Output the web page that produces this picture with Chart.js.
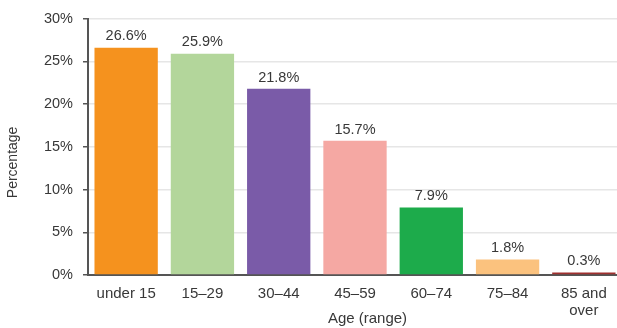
<!DOCTYPE html>
<html>
<head>
<meta charset="utf-8">
<script src="https://cdn.jsdelivr.net/npm/chart.js@4.4.1/dist/chart.umd.min.js"></script>
<style>
html,body{margin:0;padding:0;background:#fff;overflow:hidden;}
canvas{display:block;}
</style>
</head>
<body>
<canvas id="c" width="623" height="328"></canvas>
<script>
const categories = ['under 15', '15\u201329', '30\u201344', '45\u201359', '60\u201374', '75\u201384', ['85 and', 'over']];
const percentages = [26.6, 25.9, 21.8, 15.7, 7.9, 1.8, 0.3];
const yTicks = [0, 5, 10, 15, 20, 25, 30];
const barColors = ['#F5921E', '#B3D69B', '#7A5BA8', '#F5A8A3', '#1DAB4B', '#FBC27E', '#A0302F'];

const FONT = "'Liberation Sans', Arial, sans-serif";
const TEXT = '#383838';

const valueLabels = {
  id: 'valueLabels',
  afterDatasetsDraw(chart) {
    const ctx = chart.ctx;
    const meta = chart.getDatasetMeta(0);
    ctx.save();
    ctx.font = '14.5px ' + FONT;
    ctx.fillStyle = TEXT;
    ctx.textAlign = 'center';
    ctx.textBaseline = 'bottom';
    meta.data.forEach((bar, i) => {
      ctx.fillText(percentages[i].toFixed(1) + '%', bar.x, bar.y - 4);
    });
    ctx.restore();
  }
};

new Chart(document.getElementById('c'), {
  type: 'bar',
  data: {
    labels: categories,
    datasets: [{
      data: percentages,
      backgroundColor: barColors,
      borderWidth: 0,
      barPercentage: 0.83,
      categoryPercentage: 1.0
    }]
  },
  options: {
    responsive: false,
    animation: false,
    devicePixelRatio: 1,
    layout: { padding: { top: 17, left: 0, right: 1, bottom: 0 } },
    plugins: { legend: { display: false }, tooltip: { enabled: false } },
    scales: {
      x: {
        grid: { display: false, drawTicks: false },
        border: { display: true, color: '#555', width: 2 },
        ticks: { color: TEXT, font: { family: FONT, size: 15, lineHeight: 1.1 }, padding: 11, maxRotation: 0, autoSkip: false },
        title: { display: true, text: '      Age (range)', color: TEXT, font: { family: FONT, size: 15 }, padding: { top: 0, bottom: 0 } },
        afterFit(s) { s.height = 53; }
      },
      y: {
        min: 0, max: 30,
        afterBuildTicks(s) { s.ticks = yTicks.map(v => ({ value: v })); },
        grid: { color: '#e6e6e6', tickColor: '#555', tickLength: 5, lineWidth: 1.5 },
        border: { display: true, color: '#555', width: 2 },
        ticks: { color: TEXT, font: { family: FONT, size: 14.5 }, padding: 10, callback: v => v + '%' },
        title: { display: true, text: 'Percentage        ', color: TEXT, font: { family: FONT, size: 14 }, padding: { top: 5, bottom: 0 } },
        afterFit(s) { s.width = 88; }
      }
    }
  },
  plugins: [valueLabels]
});
</script>
</body>
</html>
